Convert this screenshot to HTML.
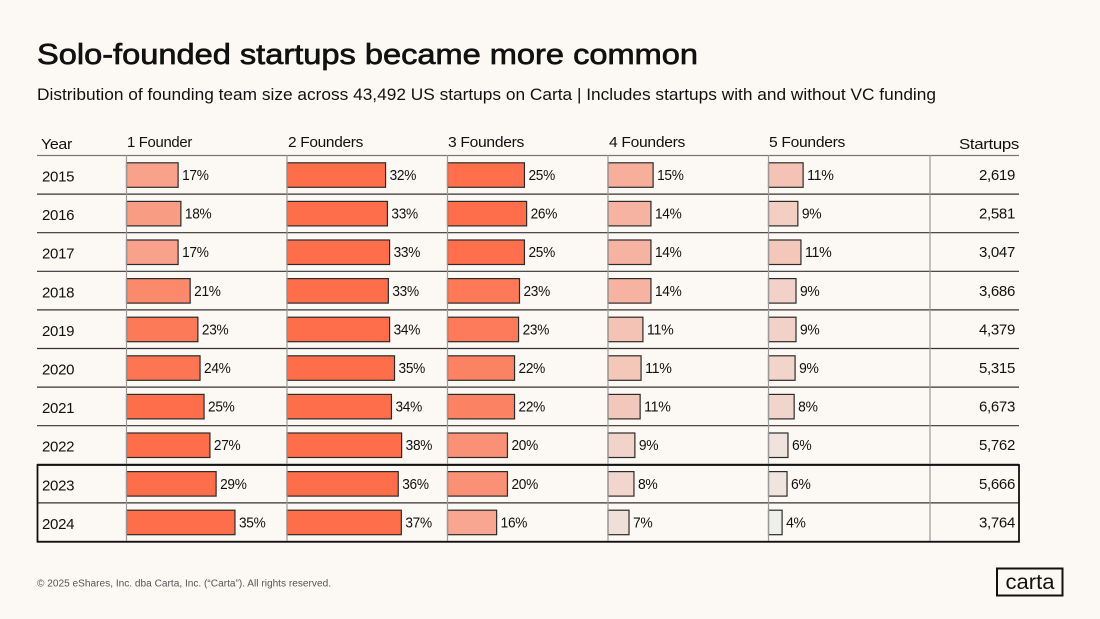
<!DOCTYPE html>
<html lang="en">
<head>
<meta charset="utf-8">
<title>Solo-founded startups became more common</title>
<style>
html,body{margin:0;padding:0;background:#fcf9f4;}
svg{display:block;font-family:"Liberation Sans",sans-serif;}
text{fill:#111;}
.cell{font-size:15px;letter-spacing:-.3px;}
.head{font-size:15px;letter-spacing:-.3px;}
</style>
</head>
<body>
<svg id="chart" width="1100" height="619" viewBox="0 0 1100 619" xmlns="http://www.w3.org/2000/svg">
<rect width="1100" height="619" fill="#fcf9f4"/>
<text x="37" y="64" font-size="29" stroke="#111" stroke-width=".7" textLength="661" lengthAdjust="spacingAndGlyphs">Solo-founded startups became more common</text>
<text x="37" y="100" font-size="17" textLength="899" lengthAdjust="spacingAndGlyphs">Distribution of founding team size across 43,492 US startups on Carta | Includes startups with and without VC funding</text>
<text class="head" x="41" y="149" textLength="31" lengthAdjust="spacingAndGlyphs">Year</text>
<text class="head" x="127" y="147" textLength="65" lengthAdjust="spacingAndGlyphs">1 Founder</text>
<text class="head" x="288" y="147" textLength="75" lengthAdjust="spacingAndGlyphs">2 Founders</text>
<text class="head" x="448" y="147" textLength="76" lengthAdjust="spacingAndGlyphs">3 Founders</text>
<text class="head" x="609" y="147" textLength="76" lengthAdjust="spacingAndGlyphs">4 Founders</text>
<text class="head" x="769" y="147" textLength="76" lengthAdjust="spacingAndGlyphs">5 Founders</text>
<text class="head" x="959" y="149" textLength="60" lengthAdjust="spacingAndGlyphs">Startups</text>
<g id="rules"></g>
<g id="bars"></g>
<g id="dividers"></g>
<g id="labels"></g>
<rect x="37.5" y="465" width="981.5" height="76.8" fill="none" stroke="#111" stroke-width="1.8"/>
<text x="37" y="586.5" font-size="10" style="fill:#555" textLength="294" lengthAdjust="spacingAndGlyphs">© 2025 eShares, Inc. dba Carta, Inc. (“Carta”). All rights reserved.</text>
<g>
<rect x="997" y="568.5" width="65.5" height="27" fill="none" stroke="#111" stroke-width="2"/>
<text x="1005.5" y="589" font-size="21" textLength="49" lengthAdjust="spacingAndGlyphs">carta</text>
</g>
</svg>
<script>
const years = ["2015","2016","2017","2018","2019","2020","2021","2022","2023","2024"];
const seriesNames = ["1-founder","2-founders","3-founders","4-founders","5-founders"];
const founders1 = [16.7,17.6,16.7,20.6,23.1,23.8,25.1,27,29,35.1];
const founders2 = [31.9,32.5,33.2,32.8,33.2,34.8,33.8,37.1,36,37];
const founders3 = [24.9,25.6,24.9,23.3,23,21.7,21.7,19.4,19.4,15.9];
const founders4 = [14.6,13.9,13.9,13.9,11.3,10.7,10.4,8.7,8.4,6.8];
const founders5 = [11.2,9.5,10.5,8.9,8.9,8.6,8.3,6.3,6,4.4];
const labels1 = ["17%","18%","17%","21%","23%","24%","25%","27%","29%","35%"];
const labels2 = ["32%","33%","33%","33%","34%","35%","34%","38%","36%","37%"];
const labels3 = ["25%","26%","25%","23%","23%","22%","22%","20%","20%","16%"];
const labels4 = ["15%","14%","14%","14%","11%","11%","11%","9%","8%","7%"];
const labels5 = ["11%","9%","11%","9%","9%","9%","8%","6%","6%","4%"];
const startups = ["2,619","2,581","3,047","3,686","4,379","5,315","6,673","5,762","5,666","3,764"];

const seriesValues = [founders1,founders2,founders3,founders4,founders5];
const seriesLabels = [labels1,labels2,labels3,labels4,labels5];
const NS = "http://www.w3.org/2000/svg";
const rulesG = document.getElementById("rules");
const barsG = document.getElementById("bars");
const dividersG = document.getElementById("dividers");
const labelsG = document.getElementById("labels");

function widthScale(v){ return v * 3.09; }
function columnLeft(j){ return 126.5 + j * 160.5; }
function rowTop(i){ return 155.5 + i * 38.6; }
function barFill(v){
  const t = Math.max(0, Math.min(1, (v - 4) / 21));
  const r = Math.round(238 + t * 17);
  const g = Math.round(240 - t * 130);
  const b = Math.round(238 - t * 164);
  return "rgb(" + r + "," + g + "," + b + ")";
}
function make(tag, attrs, parent, content){
  const el = document.createElementNS(NS, tag);
  for (const k in attrs) el.setAttribute(k, attrs[k]);
  if (content !== undefined) el.textContent = content;
  parent.appendChild(el);
  return el;
}

for (let i = 0; i <= years.length; i++) {
  const rule = make("line", {x1:37, x2:1019, y1:rowTop(i), y2:rowTop(i), stroke: i === 0 ? "#777" : "#333", "stroke-width":1.2}, rulesG);
  
  
}

years.forEach(function(year, i){
  const top = rowTop(i);
  const yearText = make("text", {x:42, y:top + 26, class:"cell"}, labelsG, year);
  
  
  seriesValues.forEach(function(values, j){
    const left = columnLeft(j);
    const w = widthScale(values[i]);
    const bar = make("rect", {x:left, y:top + 7.3, width:w, height:24.5, fill:barFill(values[i]), stroke:"#2b2b2b", "stroke-width":1.2}, barsG);
    
    
    const text = seriesLabels[j][i];
    const label = make("text", {x:left + w + 4, y:top + 24.5, class:"cell", textLength:(text.length - 1) * 7 + 12.5, lengthAdjust:"spacingAndGlyphs"}, labelsG, text);
    
    
  });
  const count = make("text", {x:1015, y:top + 24.5, class:"cell", "text-anchor":"end"}, labelsG, startups[i]);
  
  
});

for (let j = 0; j <= seriesNames.length; j++) {
  const divider = make("line", {x1:j === 5 ? 930 : columnLeft(j), x2:j === 5 ? 930 : columnLeft(j), y1:155, y2:542, stroke:"#999", "stroke-width":1.2}, dividersG);
  
  
}
</script>
</body>
</html>
